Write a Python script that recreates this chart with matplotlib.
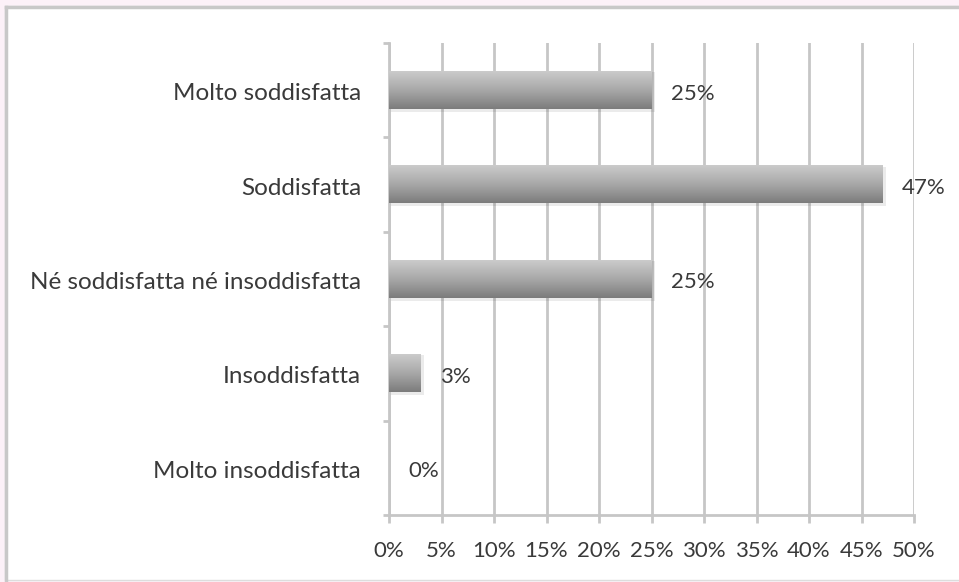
import numpy as np
import matplotlib
matplotlib.use("Agg")
import matplotlib.pyplot as plt
from matplotlib.colors import LinearSegmentedColormap
from matplotlib.lines import Line2D
from matplotlib.patches import Rectangle

# data (top to bottom in the chart)
categories = ["Molto soddisfatta", "Soddisfatta", "Né soddisfatta né insoddisfatta",
              "Insoddisfatta", "Molto insoddisfatta"]
values = [25, 47, 25, 3, 0]
xticks = [0, 5, 10, 15, 20, 25, 30, 35, 40, 45, 50]

plt.rcParams['font.family'] = ['Lato', 'DejaVu Sans']
text_col = "#3a3a3a"
grid_col = "#c6c6c6"

fig = plt.figure(figsize=(9.59, 5.82), dpi=100, facecolor="#fcf1f8")

# white panel with grey left/top border
fig.add_artist(Rectangle((5 / 959, 2 / 582), 1, 574 / 582, transform=fig.transFigure,
                         facecolor="white", edgecolor="#dddddd", lw=1, zorder=0))
fig.add_artist(Line2D([6 / 959, 6 / 959], [2 / 582, 575 / 582], transform=fig.transFigure,
                      color="#c8c8c8", lw=2.5))
fig.add_artist(Line2D([6 / 959, 1], [575 / 582, 575 / 582], transform=fig.transFigure,
                      color="#c8c8c8", lw=2.5))

ax = fig.add_axes([389 / 959, 1 - 515 / 582, (914 - 389) / 959, (515 - 43) / 582])
ax.set_facecolor("none")

y = np.arange(len(categories))[::-1]
h = 0.4
bars = ax.barh(y, values, height=h, color="none", zorder=3)

cmap = LinearSegmentedColormap.from_list("g", ["#cbcbcb", "#a8a8a8", "#7c7c7c"])
grad = np.linspace(0, 1, 100).reshape(-1, 1)
for b in bars:
    x0, y0 = b.get_x(), b.get_y()
    w, hh = b.get_width(), b.get_height()
    if w <= 0:
        continue
    # soft shadow
    ax.add_patch(Rectangle((x0, y0 - 0.03), w + 0.35, hh + 0.02, facecolor="#000000",
                           alpha=0.08, lw=0, zorder=2))
    ax.imshow(grad, cmap=cmap, aspect="auto", extent=[x0, x0 + w, y0, y0 + hh],
              origin="upper", zorder=3)

for yi, v in zip(y, values):
    ax.annotate(f"{v}%", (v, yi), xytext=(14, -2.5), textcoords="offset points",
                va="center", ha="left", fontsize=16, color=text_col, zorder=4)

# category labels, drawn as text so they can sit a bit below the bar centre
for yi, cat in zip(y, categories):
    ax.annotate(cat, (0, yi), xycoords=("axes fraction", "data"), xytext=(-20, -2.5),
                textcoords="offset points", va="center", ha="right",
                fontsize=17.5, color=text_col, annotation_clip=False)

ax.set_xlim(0, 50)
ax.set_ylim(-0.5, len(categories) - 0.5)
ax.set_xticks(xticks)
ax.set_xticklabels([f"{t}%" for t in xticks])
ax.set_yticks(np.arange(-0.5, len(categories), 1.0))
ax.set_yticklabels([])

ax.xaxis.grid(True, color=grid_col, lw=2, zorder=1)
ax.set_axisbelow(True)

for s in ["top", "right"]:
    ax.spines[s].set_visible(False)
for s in ["left", "bottom"]:
    ax.spines[s].set_color(grid_col)
    ax.spines[s].set_linewidth(2)

ax.tick_params(axis="x", length=6, width=2, color=grid_col, pad=13,
               labelsize=16, labelcolor=text_col)
ax.tick_params(axis="y", length=4, width=2, color=grid_col)

fig.savefig("out.png", dpi=100, facecolor=fig.get_facecolor())
